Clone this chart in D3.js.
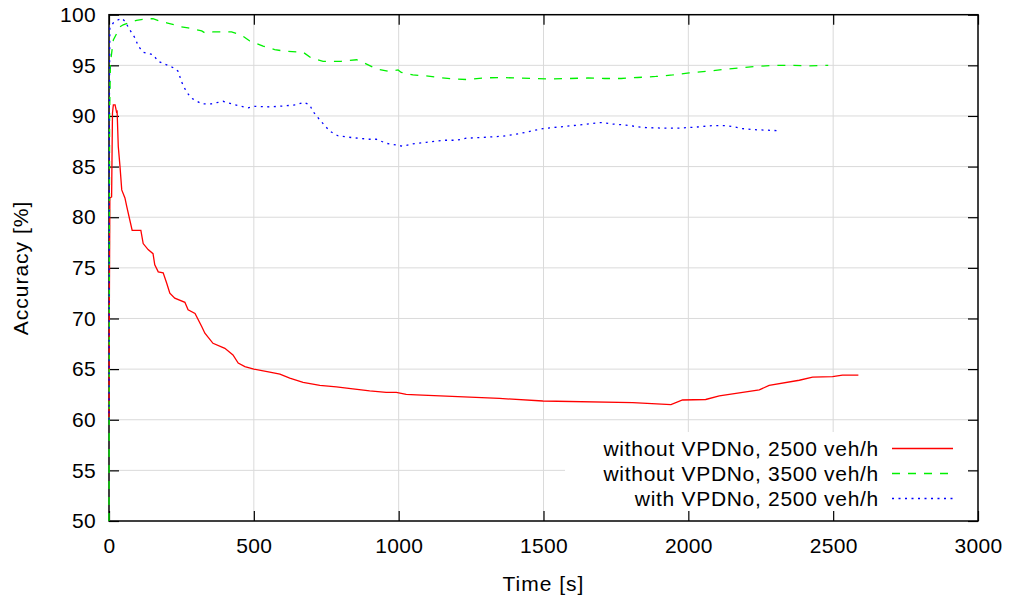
<!DOCTYPE html>
<html>
<head>
<meta charset="utf-8">
<script src="https://cdn.jsdelivr.net/npm/d3@7"></script>
<style>
  html, body { margin: 0; padding: 0; background: #fff; }
  svg { display: block; }
  text { font-family: "Liberation Sans", Arial, Helvetica, sans-serif; fill: #000; }
</style>
</head>
<body>
<svg id="chart" width="1009" height="598"></svg>
<script>
// Accuracy over time for the three detector configurations
const xTicks = [0, 500, 1000, 1500, 2000, 2500, 3000];
const yTicks = [50, 55, 60, 65, 70, 75, 80, 85, 90, 95, 100];

const seriesNames = [
  "without VPDNo, 2500 veh/h",
  "without VPDNo, 3500 veh/h",
  "with VPDNo, 2500 veh/h"
];

const timeNo2500 = [0, 1, 3, 9, 12, 15, 21, 26, 28, 32, 38, 44, 55, 61, 72, 80, 110, 118, 135, 152,
  158, 170, 187, 199, 210, 227, 262, 273, 297, 320, 331, 359, 400, 428, 446, 469, 500, 555, 590, 624,
  670, 728, 785, 842, 900, 957, 992, 1026, 1061, 1348, 1498, 1808, 1940, 1980, 2060, 2107, 2245, 2279,
  2383, 2429, 2498, 2532, 2587];
const accNo2500 = [60, 70, 81.9, 82, 90.3, 91.1, 91.1, 90.4, 90.45, 87, 85, 82.7, 81.9, 81.1, 79.7, 78.7,
  78.7, 77.4, 76.8, 76.4, 75.3, 74.6, 74.5, 73.5, 72.5, 72, 71.6, 70.85, 70.5, 69.2, 68.55, 67.55, 67.05,
  66.4, 65.6, 65.25, 65, 64.7, 64.5, 64.1, 63.7, 63.4, 63.25, 63.05, 62.85, 62.7, 62.7, 62.5, 62.45, 62.1,
  61.85, 61.7, 61.5, 61.95, 62.0, 62.35, 62.95, 63.4, 63.9, 64.2, 64.25, 64.4, 64.4];

const timeNo3500 = [0, 2, 5, 15, 38, 49, 78, 95, 135, 152, 187, 199, 227, 239, 273, 290, 320, 331, 359,
  423, 457, 486, 532, 572, 607, 670, 699, 739, 802, 855, 883, 923, 969, 998, 1009, 1049, 1095, 1141,
  1187, 1233, 1291, 1348, 1406, 1469, 1532, 1590, 1653, 1710, 1768, 1825, 1888, 1946, 2003, 2060, 2124,
  2181, 2239, 2297, 2360, 2411, 2483];
const accNo3500 = [50, 90, 95.3, 97.5, 98.8, 99.0, 99.3, 99.45, 99.6, 99.6, 99.25, 99.2, 99.0, 98.85,
  98.7, 98.6, 98.4, 98.2, 98.3, 98.3, 98.0, 97.4, 96.9, 96.55, 96.4, 96.3, 95.7, 95.4, 95.4, 95.55, 95.2,
  94.65, 94.4, 94.55, 94.3, 94.05, 93.95, 93.8, 93.65, 93.6, 93.75, 93.8, 93.75, 93.7, 93.65, 93.7, 93.75,
  93.7, 93.7, 93.8, 93.9, 94.05, 94.25, 94.4, 94.6, 94.75, 94.9, 95.0, 95.0, 94.95, 95.0];

const timeWith2500 = [0, 1, 3, 15, 32, 44, 55, 72, 90, 101, 118, 152, 170, 199, 227, 239, 250, 267, 285,
  320, 354, 394, 423, 457, 480, 503, 560, 607, 647, 672, 693, 704, 728, 762, 790, 842, 900, 923, 957, 998,
  1015, 1049, 1095, 1153, 1199, 1233, 1302, 1360, 1417, 1463, 1498, 1567, 1636, 1699, 1739, 1785, 1820,
  1854, 1911, 1969, 2026, 2084, 2129, 2153, 2187, 2222, 2267, 2312];
const accWith2500 = [60, 90, 98.7, 99.2, 99.5, 99.65, 99.35, 98.5, 97.7, 96.9, 96.3, 96.05, 95.4, 95.05,
  94.7, 94.4, 93.4, 92.4, 91.75, 91.2, 91.2, 91.45, 91.2, 90.95, 90.8, 90.95, 90.9, 91.0, 91.1, 91.35,
  91.1, 90.45, 89.6, 88.5, 88.05, 87.85, 87.7, 87.7, 87.3, 87.1, 87.0, 87.25, 87.4, 87.6, 87.6, 87.8, 87.9,
  88.0, 88.25, 88.55, 88.75, 88.95, 89.15, 89.35, 89.2, 89.1, 88.95, 88.85, 88.8, 88.8, 88.9, 89.05,
  89.05, 88.95, 88.75, 88.65, 88.6, 88.55];

const series = [
  { name: seriesNames[0], t: timeNo2500, v: accNo2500, color: "#ff0000", dash: null },
  { name: seriesNames[1], t: timeNo3500, v: accNo3500, color: "#00f000", dash: "8,8" },
  { name: seriesNames[2], t: timeWith2500, v: accWith2500, color: "#0000ff", dash: "2,4.5" }
];

const svg = d3.select("#chart");
const plotL = 109, plotR = 978, plotT = 14.7, plotB = 521;

const x = d3.scaleLinear().domain([0, 3000]).range([plotL, plotR]);
const y = d3.scaleLinear().domain([50, 100]).range([plotB, plotT]);

// grid
const grid = svg.append("g").attr("stroke", "#dadada").attr("stroke-width", 1);
grid.selectAll("line.gx").data(xTicks.slice(1, -1)).join("line").attr("class", "gx")
  .attr("x1", d => x(d)).attr("x2", d => x(d)).attr("y1", plotT).attr("y2", plotB);
grid.selectAll("line.gy").data(yTicks.slice(1, -1)).join("line").attr("class", "gy")
  .attr("x1", plotL).attr("x2", plotR).attr("y1", d => y(d)).attr("y2", d => y(d));

// legend background hides the grid beneath the key
svg.append("rect")
  .attr("x", 565).attr("y", 432).attr("width", 403).attr("height", plotB - 432)
  .attr("fill", "#fff");

// axes with inward ticks, mirrored on the opposite sides
const tickLen = 10;
const axB = svg.append("g").attr("transform", `translate(0,${plotB})`)
  .call(d3.axisBottom(x).tickValues(xTicks).tickSize(-tickLen).tickPadding(17).tickFormat(d3.format("d")));
const axT = svg.append("g").attr("transform", `translate(0,${plotT})`)
  .call(d3.axisTop(x).tickValues(xTicks).tickSize(-tickLen).tickFormat(""));
const axL = svg.append("g").attr("transform", `translate(${plotL},0)`)
  .call(d3.axisLeft(y).tickValues(yTicks).tickSize(-tickLen).tickPadding(13).tickFormat(d3.format("d")));
const axR = svg.append("g").attr("transform", `translate(${plotR},0)`)
  .call(d3.axisRight(y).tickValues(yTicks).tickSize(-tickLen).tickFormat(""));

[axB, axT, axL, axR].forEach(a => {
  a.select(".domain").remove();
  a.selectAll(".tick line").attr("stroke", "#000").attr("stroke-width", 1.2);
  a.selectAll(".tick text")
    .style("font-size", "21px")
    .style("letter-spacing", "0.3px")
    .style("font-family", "Liberation Sans, Arial, sans-serif")
    .attr("fill", "#000");
});
axB.selectAll(".tick text").attr("dy", "0.71em");

// plot border
svg.append("rect")
  .attr("x", plotL).attr("y", plotT).attr("width", plotR - plotL).attr("height", plotB - plotT)
  .attr("fill", "none").attr("stroke", "#000").attr("stroke-width", 1.5);

// curves
const line = d3.line().x(d => x(d[0])).y(d => y(d[1]));
series.forEach(s => {
  const pts = s.t.map((t, i) => [t, s.v[i]]);
  svg.append("path")
    .datum(pts)
    .attr("d", line)
    .attr("fill", "none")
    .attr("stroke", s.color)
    .attr("stroke-width", 1.3)
    .attr("stroke-dasharray", s.dash);
});

// key
const keyTextX = 879, keyLineX1 = 892, keyLineX2 = 953;
const keyRowY = [448.5, 473.5, 498.5];
series.forEach((s, i) => {
  svg.append("text")
    .attr("x", keyTextX).attr("y", keyRowY[i])
    .attr("dy", "0.35em")
    .attr("text-anchor", "end")
    .style("font-size", "21px")
    .style("letter-spacing", "0.7px")
    .text(s.name);
  svg.append("line")
    .attr("x1", keyLineX1).attr("x2", keyLineX2)
    .attr("y1", keyRowY[i]).attr("y2", keyRowY[i])
    .attr("stroke", s.color).attr("stroke-width", 1.3)
    .attr("stroke-dasharray", s.dash);
});

// axis titles
svg.append("text")
  .attr("x", (plotL + plotR) / 2).attr("y", 591)
  .attr("text-anchor", "middle")
  .style("font-size", "21px")
  .style("letter-spacing", "1px")
  .text("Time [s]");
svg.append("text")
  .attr("transform", "translate(28,268) rotate(-90)")
  .attr("text-anchor", "middle")
  .style("font-size", "21px")
  .style("letter-spacing", "1px")
  .text("Accuracy [%]");
</script>
</body>
</html>
